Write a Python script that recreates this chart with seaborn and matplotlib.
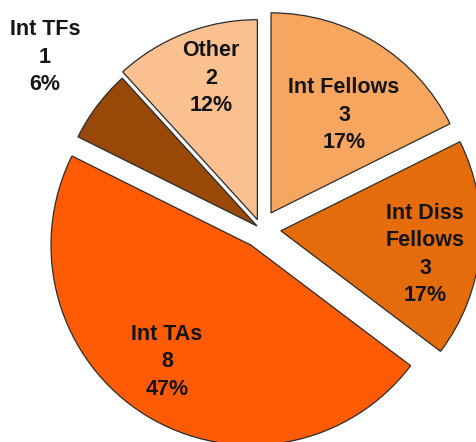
import numpy as np
import matplotlib
matplotlib.use('Agg')
import matplotlib.pyplot as plt
import seaborn as sns

# Slice data (clockwise from 12 o'clock)
names = ['Int Fellows', 'Int Diss\nFellows', 'Int TAs', 'Int TFs', 'Other']
counts = [3, 3, 8, 1, 2]
pct_labels = [17, 17, 47, 6, 12]

colors = ['#F7A660', '#E46C0A', '#FF5B05', '#984807', '#FAC090']
explode = [19, 20, 19, 5, 10]          # offsets in pixels
# label placement: fraction of radius and angle shift (deg) from slice middle
label_dist = [0.61, 0.73, 0.72, 1.355, 0.745]
label_shift = [-5, -4, -4, -1.5, -3]

sns.set_style("white")
plt.rcParams['font.family'] = ['Liberation Sans', 'DejaVu Sans']

fig = plt.figure(figsize=(4.76, 4.42), dpi=100)
ax = fig.add_axes([0, 0, 1, 1])

wedges, _ = ax.pie(counts, explode=explode, colors=colors, startangle=90,
                   counterclock=False, radius=200, center=(261, 213),
                   wedgeprops=dict(edgecolor='#2b2b2b', linewidth=0.9))

# Labels: name, count, percent
for w, name, n, p, d, s in zip(wedges, names, counts, pct_labels,
                               label_dist, label_shift):
    ang = np.deg2rad((w.theta1 + w.theta2) / 2 + s)
    x = w.center[0] + d * w.r * np.cos(ang)
    y = w.center[1] + d * w.r * np.sin(ang)
    ax.text(x, y, f"{name}\n{n}\n{p}%", ha='center', va='center',
            fontsize=15.5, fontweight='bold', color='#141414', linespacing=1.4)

ax.set_xlim(0, 476)
ax.set_ylim(0, 442)
ax.set_aspect('equal')
ax.axis('off')

plt.savefig('out.png', dpi=100)
